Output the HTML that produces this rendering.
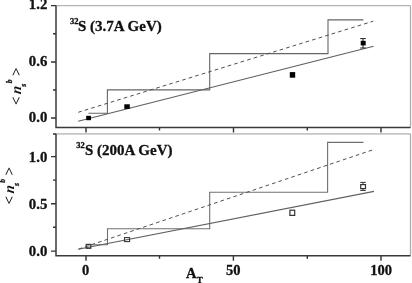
<!DOCTYPE html>
<html>
<head>
<meta charset="utf-8">
<style>
html,body{margin:0;padding:0;background:#fff;}
body{width:412px;height:283px;overflow:hidden;position:relative;}
svg{position:absolute;left:0;top:0;}
text{font-family:"Liberation Serif","Times New Roman",serif;font-weight:bold;fill:#111;stroke:#111;stroke-width:0.3px;}
</style>
</head>
<body>
<svg width="412" height="283" viewBox="0 0 412 283">
<!-- ===== TOP PANEL ===== -->
<g fill="none">
  <!-- frame light -->
  <path d="M56 5.6 H410.5" stroke="#b4b4b4" stroke-width="1.3"/>
  <path d="M410.5 5.6 V127.5" stroke="#ababab" stroke-width="1.3"/>
  <!-- axes dark -->
  <path d="M56 5.6 V127.5 H410.5" stroke="#3a3a3a" stroke-width="1.5"/>
  <!-- y ticks -->
  <path d="M51 5.6 H56 M51 62 H56 M51 118 H56 M53 33.8 H56 M53 90 H56" stroke="#333" stroke-width="1.4"/>
  <!-- x ticks -->
  <path d="M86 127.5 V132.6 M233.5 127.5 V132.6 M381 127.5 V132.6 M159.5 127.5 V130.4 M307.3 127.5 V130.4" stroke="#333" stroke-width="1.4"/>
  <!-- stair -->
  <path d="M88.4 113.3 H107.4 V89.9 H209.7 V53.6 H328 V19.9 H363.4" stroke="#666" stroke-width="1.1"/>
  <!-- solid fit -->
  <path d="M78.2 121.3 L373.6 46.3" stroke="#606060" stroke-width="1.1"/>
  <!-- dashed -->
  <path d="M78.2 112.3 L373.2 21.2" stroke="#505050" stroke-width="1" stroke-dasharray="3.7 3.1"/>
  <!-- error bar -->
  <path d="M363 38.6 V48 M360.2 38.6 H365.8 M360.2 48 H365.8" stroke="#222" stroke-width="1"/>
</g>
<g fill="#000">
  <rect x="86.2" y="115.8" width="4.8" height="4.4"/>
  <rect x="124.3" y="104.3" width="5.5" height="4.6"/>
  <rect x="289.8" y="72.1" width="5.4" height="5.6"/>
  <rect x="360.7" y="40.8" width="5" height="4.6"/>
</g>
<text x="47.3" y="9.3" font-size="14.8" text-anchor="end">1.2</text>
<text x="47.3" y="66.4" font-size="14.8" text-anchor="end">0.6</text>
<text x="47.3" y="122.4" font-size="14.8" text-anchor="end">0.0</text>
<text x="70" y="23.8" font-size="8.5">32</text>
<text x="78" y="30.6" font-size="15">S (3.7A GeV)</text>

<!-- ===== BOTTOM PANEL ===== -->
<g fill="none">
  <path d="M56 133.8 H410.5" stroke="#c6c6c6" stroke-width="1.7"/>
  <path d="M410.5 133.8 V255.7" stroke="#ababab" stroke-width="1.3"/>
  <path d="M56 133.8 V255.7 H410.5" stroke="#3a3a3a" stroke-width="1.5"/>
  <path d="M51 156.6 H56 M51 203.7 H56 M51 251.1 H56 M53 134 H56 M53 180.1 H56 M53 227.2 H56" stroke="#333" stroke-width="1.4"/>
  <path d="M86 255.7 V260.7 M233.4 255.7 V260.7 M381 255.7 V260.7 M159.5 255.7 V258.8 M307.3 255.7 V258.8" stroke="#333" stroke-width="1.4"/>
  <path d="M88.4 244.8 H107.5 V228.7 H209.7 V192.3 H327.6 V142.4 H363.5" stroke="#707070" stroke-width="1.1"/>
  <path d="M78.2 249.2 L374 191.4" stroke="#606060" stroke-width="1.1"/>
  <path d="M78.2 249.2 L373.2 149.7" stroke="#505050" stroke-width="1" stroke-dasharray="3.7 3.1" stroke-dashoffset="-0.5"/>
  <path d="M363 182.4 V190.4 M360.2 182.4 H365.8 M360.2 190.4 H365.8" stroke="#333" stroke-width="1"/>
  <rect x="86.2" y="244.4" width="4.6" height="3.9" stroke="#333" stroke-width="1.2" fill="none"/>
  <rect x="124.5" y="237.6" width="5.1" height="4" stroke="#3a3a3a" stroke-width="1.1" fill="none"/>
  <rect x="289.9" y="210.2" width="4.8" height="5.2" stroke="#333" stroke-width="1.2" fill="#fff"/>
  <rect x="360.7" y="184.6" width="4.8" height="4" stroke="#333" stroke-width="1.2" fill="#fff"/>
</g>
<text x="47.3" y="162" font-size="14.8" text-anchor="end">1.0</text>
<text x="47.3" y="208.8" font-size="14.8" text-anchor="end">0.5</text>
<text x="47.3" y="255.8" font-size="14.8" text-anchor="end">0.0</text>
<text x="76.2" y="147.5" font-size="8.5">32</text>
<text x="85" y="155" font-size="15">S (200A GeV)</text>

<text x="85.5" y="275.1" font-size="14.5" text-anchor="middle">0</text>
<text x="233.2" y="275.1" font-size="14.5" text-anchor="middle">50</text>
<text x="381" y="275.1" font-size="14.5" text-anchor="middle">100</text>
<text x="186" y="277.5" font-size="14.5">A</text>
<text x="196.7" y="283.3" font-size="9">T</text>

<!-- y labels (rotated) -->
<g transform="translate(21,105) rotate(-90)">
  <text x="0" y="0" font-size="15" style="stroke-width:0">&lt;</text>
  <text x="10.6" y="0" font-size="14.5" font-style="italic" style="stroke-width:0" transform="skewX(-8)">n</text>
  <text x="18.3" y="5" font-size="8" font-style="italic">s</text>
  <text x="21.7" y="-9.4" font-size="7.5" font-style="italic">b</text>
  <text x="29" y="0" font-size="15" style="stroke-width:0">&gt;</text>
</g>
<g transform="translate(14.4,204.4) rotate(-90)">
  <text x="0" y="0" font-size="15" style="stroke-width:0">&lt;</text>
  <text x="10.6" y="0" font-size="14.5" font-style="italic" style="stroke-width:0" transform="skewX(-8)">n</text>
  <text x="18.3" y="5" font-size="8" font-style="italic">s</text>
  <text x="21.7" y="-9.4" font-size="7.5" font-style="italic">b</text>
  <text x="29" y="0" font-size="15" style="stroke-width:0">&gt;</text>
</g>
</svg>
</body>
</html>
